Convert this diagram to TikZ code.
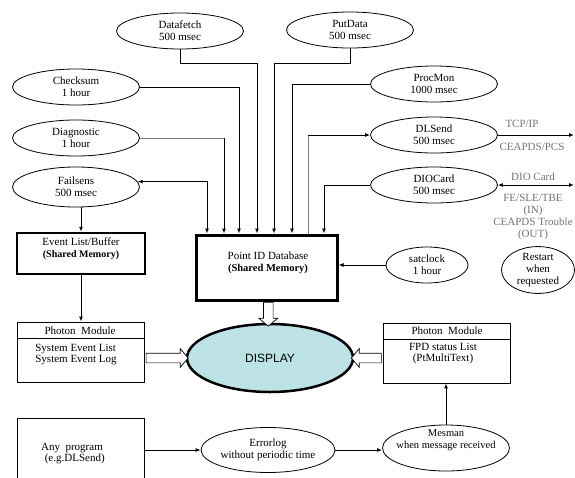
\documentclass[tikz,border=0pt]{standalone}
\usepackage{fontspec}
\setmainfont{Liberation Serif}
\newfontfamily\dispfont{Liberation Sans}
\usetikzlibrary{shapes.geometric,shapes.arrows,arrows.meta,calc}
\definecolor{dispcol}{HTML}{BCE2E6}
\begin{document}
\begin{tikzpicture}[x=1pt,y=-1pt,
  >={Latex[length=5pt,width=4pt]},
  every node/.style={font=\fontsize{11}{11.8}\selectfont, align=center, inner sep=0pt},
  ell/.style={draw, ellipse, line width=0.8pt, minimum width=127pt, minimum height=36pt},
  glbl/.style={text=black!55},
  wire/.style={line width=1pt},
  gwire/.style={line width=1pt, draw=black!50},
  thinbox/.style={draw, line width=0.9pt},
  hollow/.style={draw, single arrow, line width=0.7pt, fill=white, inner xsep=0pt, inner ysep=4.5pt, minimum width=18pt, single arrow head extend=4.5pt, single arrow tip angle=100}
]
\useasboundingbox (0,0) rectangle (575,477);

% ellipses
\node[ell] (df) at (180,31) {Datafetch\\500 msec};
\node[ell] (pd) at (350,30) {PutData\\500 msec};
\node[ell] (cs) at (76,87) {Checksum\\1 hour};
\node[ell] (dg) at (76,138) {Diagnostic\\1 hour};
\node[ell, minimum height=40pt] (fs) at (76,187) {Failsens\\500 msec};
\node[ell] (pm) at (434,84) {ProcMon\\1000 msec};
\node[ell] (dl) at (434,135) {DLSend\\500 msec};
\node[ell] (dio) at (434,185) {DIOCard\\500 msec};
\node[ell, minimum width=82pt] (sat) at (427,265) {satclock\\1 hour};
\node[ell, minimum width=73pt, minimum height=43pt] (rs) at (538,270) {Restart\\when\\requested};
\node[ell, minimum width=131pt, minimum height=45pt] (err) at (268,450) {Errorlog\\without periodic time};
\node[ell, minimum height=46pt] (mes) at (446,448) {};
\node[font=\fontsize{10.5}{11.5}\selectfont] (mest) at (446,440) {Mesman\\when message received};

% boxes
\node[draw, line width=2.5pt, minimum width=128pt, minimum height=41pt] (ev) at (81,253.5) {};
\node (evt) at (81,249) {Event List/Buffer\\\fontsize{10}{11.8}\selectfont\textbf{(Shared Memory)}};
\node[draw, line width=3pt, minimum width=141pt, minimum height=65pt] (db) at (266.5,267.5) {};
\node (dbt) at (268,263) {Point ID Database\\\fontsize{10.5}{11.8}\selectfont\textbf{(Shared Memory)}};

\node[thinbox, minimum width=127pt, minimum height=60pt] (pl) at (80.5,352) {};
\draw[wire] ([yshift=-17pt]pl.north west) -- ([yshift=-17pt]pl.north east);
\node (plh) at (80,331) {Photon\ \ Module};
\node[align=left] (plt) at (76,354.5) {System Event List\\System Event Log};

\node[thinbox, minimum width=127pt, minimum height=60pt] (pr) at (446.5,353) {};
\draw[wire] ([yshift=-17pt]pr.north west) -- ([yshift=-17pt]pr.north east);
\node (prh) at (447,331) {Photon\ \ Module};
\node (prt) at (443,353.5) {FPD status List\\(PtMultiText)};

\node[thinbox, minimum width=127pt, minimum height=66pt, anchor=north west] (ap) at (17,418) {};
\node (apt) at (72,453.5) {Any\ \ program\\\ \ (e.g.DLSend)};

\node[draw, ellipse, line width=2.5pt, fill=dispcol, minimum width=166pt, minimum height=68pt] (disp) at (270,358) {\dispfont\fontsize{12}{13}\selectfont DISPLAY};

% gray labels
\node[glbl] (tcp) at (522,124) {TCP/IP};
\node[glbl] (pcs) at (532,147) {CEAPDS/PCS};
\node[glbl] (dioc) at (533,177) {DIO Card};
\node[glbl] (fe) at (533,217) {FE/SLE/TBE\\(IN)\\CEAPDS Trouble\\(OUT)};

% entry points on the database
\coordinate (in1) at ([xshift=12.5pt]db.north west);
\coordinate (in2) at ([xshift=29.5pt]db.north west);
\coordinate (in3) at ([xshift=44.5pt]db.north west);
\coordinate (in4) at ([xshift=62.5pt]db.north west);
\coordinate (in5) at ([xshift=79.5pt]db.north west);
\coordinate (in6) at ([xshift=97.5pt]db.north west);
\coordinate (in7) at ([xshift=113.5pt]db.north west);
\coordinate (in8) at ([xshift=129.5pt]db.north west);
\coordinate (top) at (0,63);
\coordinate (R) at (574,0);

% connectors
\draw[wire, <->] (fs.5) -| (in1);
\draw[gwire] (dg.east) -- (dg.east -| in2);
\draw[wire, ->] (dg.east -| in2) -- (in2);
\draw[wire, ->] (cs.east) -| (in3);
\draw[wire, ->] (df.south) -- (df.south |- top) -| (in4);
\draw[wire, ->] (pd.south) -- (pd.south |- top) -| (in5);
\draw[wire, ->] (pm.west) -| (in6);
\draw[gwire] (in7) -- (in7 |- dl.west);
\draw[wire, ->] (in7 |- dl.west) -- (dl.west);
\draw[wire, ->] (dio.west) -| (in8);
\draw[wire, ->] (sat.west) -- (sat.west -| db.east);
\draw[wire, ->] (ev.north |- fs.south) -- (ev.north);
\draw[wire, ->] (ev.south) -- (ev.south |- pl.north);
\draw[wire, ->] (err.west -| ap.east) -- (err.west);
\draw[wire, ->] (err.east) -- (err.east -| mes.west);
\draw[wire, ->] (mes.north) -- (mes.north |- pr.south);
\draw[wire, ->] (dl.east) -- (dl.east -| R);
\draw[wire, <->] (dio.east) -- (dio.east -| R);

% hollow arrows
\node[hollow, minimum height=24pt, rotate=-90] (h1) at ($(db.south)!0.5!(disp.north)$) {};
\node[hollow, minimum height=42pt] (h2) at ($(pl.east |- disp.west)!0.5!(disp.west)$) {};
\node[hollow, minimum height=30pt, rotate=180] (h3) at ($(pr.west |- disp.east)!0.5!(disp.east)$) {};
\end{tikzpicture}
\end{document}
